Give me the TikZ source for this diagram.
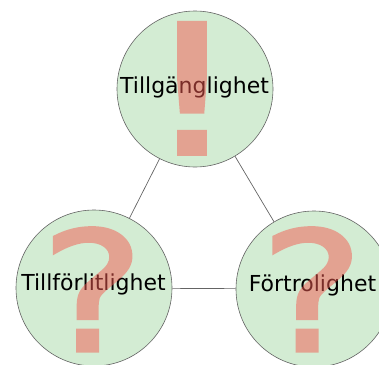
\documentclass[tikz,border=0pt]{standalone}
\usepackage{fontspec}
\setmainfont{DejaVu Sans}
\newfontfamily\markfont[FakeBold=2]{DejaVu Sans}
\definecolor{disc}{RGB}{211,236,211}
\definecolor{rim}{RGB}{100,100,100}
\definecolor{wire}{RGB}{100,100,100}
\definecolor{mark}{RGB}{243,90,81}
\tikzset{
  pillar/.style={circle, draw=rim, fill=disc, line width=0.6pt, minimum size=156pt, inner sep=0pt},
  word/.style={anchor=base, inner sep=0pt, font=\fontsize{22}{26}\selectfont},
  sign/.style={anchor=base, inner sep=0pt, text=mark},
  link/.style={draw=wire, line width=0.7pt}
}
\newcommand{\bangmark}{\scalebox{1.38}[1]{\markfont\fontsize{180}{190}\selectfont !}}
\newcommand{\askmark}{\scalebox{1.17}[1]{\markfont\fontsize{166}{175}\selectfont ?}}
\begin{document}
\begin{tikzpicture}[x=1pt,y=-1pt]
\useasboundingbox (0,0) rectangle (379,364);
% the three circles
\node[pillar] (top) at (195,89) {};
\node[pillar] (left) at (94,288) {};
\node[pillar] (right) at (314,289) {};
% connectors between circles
\draw[link] (top) -- (left);
\draw[link] (top) -- (right);
\draw[link] (left) -- (right);
% labels
\node[word] (tA) at (194.5,93) {Tillgänglighet};
\node[word] (tB) at (93.5,290) {Tillförlitlighet};
\node[word] (tC) at (312.5,291) {Förtrolighet};
% large translucent signs, each composited as one group
\begin{scope}[transparency group, opacity=0.5]
\node[sign] (sA) at (192,154) {\bangmark};
\end{scope}
\begin{scope}[transparency group, opacity=0.5]
\node[sign] (sB) at (92.5,351) {\askmark};
\end{scope}
\begin{scope}[transparency group, opacity=0.5]
\node[sign] (sC) at (312,351) {\askmark};
\end{scope}
\end{tikzpicture}
\end{document}
